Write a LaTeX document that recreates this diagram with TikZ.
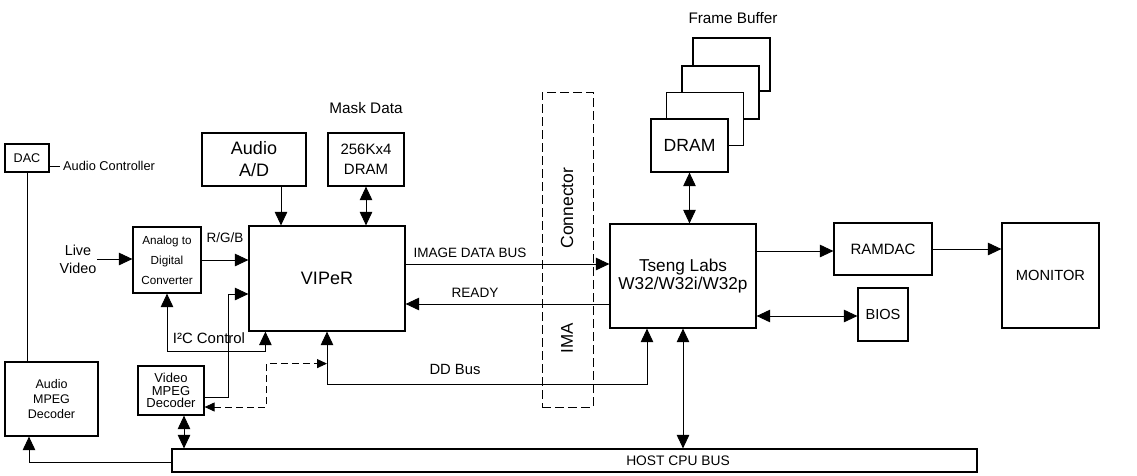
\documentclass[tikz,border=0pt]{standalone}
\usepackage{fontspec}
\setmainfont{Liberation Sans}
\usetikzlibrary{arrows.meta}
\newcommand\fs[2]{\fontsize{#1}{#2}\selectfont}
\begin{document}
\begin{tikzpicture}[x=1pt,y=-1pt,
  box/.style={draw,line width=1.2pt,inner sep=0pt,align=center,fill=white},
  conn/.style={line width=0.9pt},
  >={Triangle[length=13.5pt,width=12.5pt]},
  smalltip/.style={>={Triangle[length=10pt,width=9pt]}},
  lbl/.style={inner sep=1pt,align=center}]
\useasboundingbox (0,0) rectangle (1137,475);

% boxes
\node[box,minimum width=44,minimum height=28,font=\fs{12.6}{14}] (dac) at (27,158) {DAC};
\node[lbl,anchor=west,font=\fs{12.8}{14}] (ac) at (62,166) {Audio Controller};
\node[lbl,font=\fs{14.4}{18}] (lv) at (78,259) {Live\\Video};
\node[box,minimum width=68,minimum height=66,font=\fs{11.7}{20}] (adc) at (167,260) {Analog to\\Digital\\Converter};
\node[lbl,font=\fs{13.5}{15}] (rgb) at (225,238) {R/G/B};
\node[box,minimum width=156,minimum height=105,font=\fs{18}{20}] (viper) at (327,278.5) {VIPeR};
\node[box,minimum width=104,minimum height=53,font=\fs{18}{22}] (aad) at (254,159.5) {Audio\\A/D};
\node[box,minimum width=76,minimum height=53,font=\fs{15}{20}] (mdram) at (366,159.5) {256Kx4\\DRAM};
\node[lbl,font=\fs{15.3}{17}] (mask) at (366,108) {Mask Data};
\node[box,minimum width=93,minimum height=74,font=\fs{12.5}{15}] (amd) at (51.5,399) {Audio\\MPEG\\Decoder};
\node[box,minimum width=66,minimum height=49,font=\fs{13}{12.5}] (vmd) at (171,390.5) {Video\\MPEG\\Decoder};
\node[box,minimum width=805,minimum height=23] (bus) at (574.5,460.5) {};
\node[lbl,font=\fs{13.8}{15}] (buslbl) at (678,461) {HOST CPU BUS};
\node[draw,line width=0.9pt,dash pattern=on 9pt off 4pt,minimum width=51,minimum height=315,inner sep=0pt] (cnx) at (567.5,249.5) {};
\node[lbl,rotate=90,font=\fs{17.5}{19}] (cnxlbl) at (567,208) {Connector};
\node[lbl,rotate=90,font=\fs{17}{19}] (ima) at (567,338) {IMA};
\node[box,minimum width=146,minimum height=104,font=\fs{17.2}{18}] (tseng) at (683,276) {Tseng Labs\\W32/W32i/W32p};
\node[lbl,font=\fs{15.3}{17}] (fblbl) at (733,18) {Frame Buffer};
\node[box,minimum width=77,minimum height=53] (fb1) at (731.5,64.5) {};
\node[box,minimum width=77,minimum height=53] (fb2) at (720.5,92.5) {};
\node[box,minimum width=77,minimum height=53] (fb3) at (705,119) {};
\node[box,minimum width=77,minimum height=53,font=\fs{17.6}{19}] (dram) at (689.5,145.5) {DRAM};
\node[box,minimum width=98,minimum height=52,font=\fs{15}{17}] (ramdac) at (883,249) {RAMDAC};
\node[box,minimum width=97,minimum height=105,font=\fs{14.7}{17}] (mon) at (1050.5,275.5) {MONITOR};
\node[box,minimum width=50,minimum height=53,font=\fs{14.6}{17}] (bios) at (883,314.5) {BIOS};

% labels
\node[lbl,font=\fs{14.9}{16}] (i2c) at (209,338) {I²C Control};
\node[lbl,font=\fs{13.5}{15}] (idb) at (470,253) {IMAGE DATA BUS};
\node[lbl,font=\fs{13.6}{15}] (ready) at (475,293) {READY};
\node[lbl,font=\fs{14.8}{16}] (ddb) at (455,369) {DD Bus};

% connectors
\draw[conn] (dac.east |- ac.west) -- ([xshift=-2pt]ac.west);
\draw[conn] (dac.south) -- (dac.south |- amd.north);
\draw[conn,->] ([yshift=-1.5pt]bus.west) -| ([xshift=-22.5pt]amd.south);
\draw[conn,->] (lv.east) -- (lv.east -| adc.west);
\draw[conn,->] (adc.east) -- (adc.east -| viper.west);
\draw[conn,->] ([yshift=-6.5pt]vmd.east) -- ++(24,0) |- ([yshift=-15.5pt]viper.west);
\draw[conn,<->] (adc.south) -- ++(0,58) -| ([xshift=17pt]viper.south west);
\draw[conn,->] ([xshift=27pt]aad.south) -- ([xshift=27pt]aad.south |- viper.north);
\draw[conn,<->] (mdram.south) -- (mdram.south |- viper.north);
\draw[conn,->] ([yshift=14.5pt]viper.east) -- ([yshift=14.5pt]viper.east -| tseng.west);
\draw[conn,->] ([yshift=-28pt]tseng.west) -- ([yshift=-28pt]tseng.west -| viper.east);
\draw[conn,<->] (viper.south) -- ++(0,53) -| ([xshift=-36pt]tseng.south);
\draw[conn,smalltip,dash pattern=on 7pt off 4pt,<->] ([yshift=-16.5pt]vmd.east) -- ++(62,0) |- ([yshift=-32pt]viper.south);
\draw[conn,<->] ([xshift=13pt]vmd.south) -- ([xshift=13pt]vmd.south |- bus.north);
\draw[conn,<->] (tseng.south) -- (tseng.south |- bus.north);
\draw[conn,<->] (dram.south) -- (dram.south |- tseng.north);
\draw[conn,->] ([yshift=-2pt]ramdac.west -| tseng.east) -- ([yshift=-2pt]ramdac.west);
\draw[conn,->] (ramdac.east) -- (ramdac.east -| mon.west);
\draw[conn,<->] ([yshift=-1.5pt]bios.west -| tseng.east) -- ([yshift=-1.5pt]bios.west);
\end{tikzpicture}
\end{document}
